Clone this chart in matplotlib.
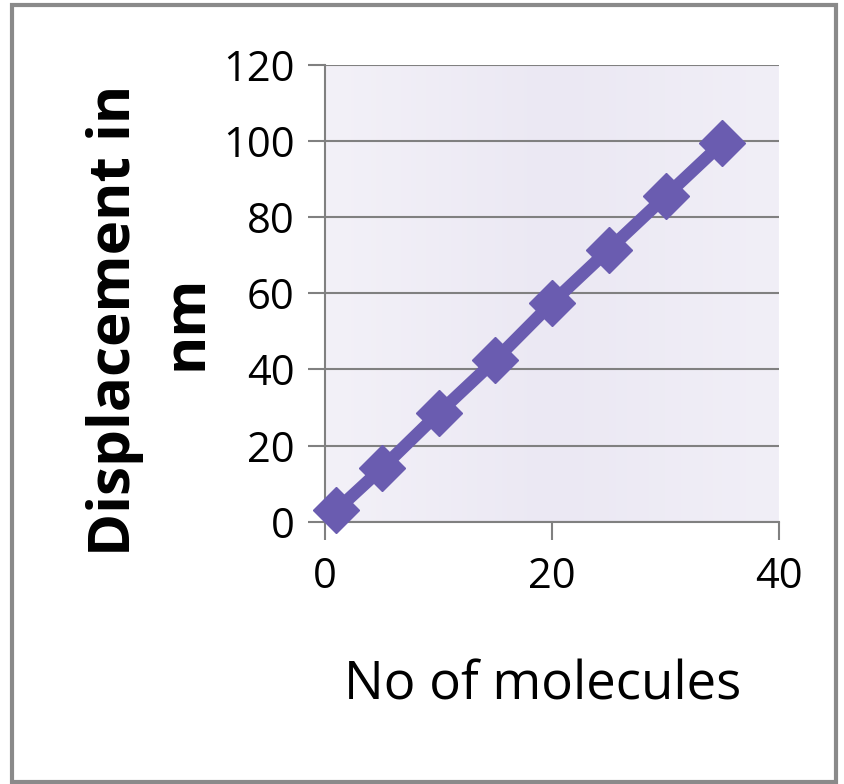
import matplotlib
matplotlib.use("Agg")
import matplotlib.pyplot as plt
import numpy as np
from matplotlib.patches import Rectangle
from matplotlib.colors import LinearSegmentedColormap

x_vals = [1, 5, 10, 15, 20, 25, 30, 35]
y_vals = [3, 14, 28.5, 42.5, 57.5, 71.5, 85.5, 99.5]
x_ticks = [0, 20, 40]
y_ticks = [0, 20, 40, 60, 80, 100, 120]

plt.rcParams['font.family'] = ['Open Sans', 'DejaVu Sans']

fig = plt.figure(figsize=(8.45, 7.84), dpi=100)
fig.patch.set_facecolor('white')
# outer frame
fig.patches.append(Rectangle((12/845, 2/784), (836-12)/845, (779-2)/784,
                             transform=fig.transFigure, fill=False,
                             edgecolor='#8a8a8a', linewidth=3))

ax = fig.add_axes([325/845, 1-521.7/784, (779-325)/845, (521.7-65)/784])
ax.set_xlim(0, 40)
ax.set_ylim(0, 120)

# gradient background
grad = np.linspace(0, 1, 256).reshape(1, -1)
cmap = LinearSegmentedColormap.from_list('bg', ['#f3f1f8', '#ebe8f3', '#f1eff7'])
ax.imshow(grad, extent=[0, 1, 0, 1], transform=ax.transAxes, aspect='auto',
          cmap=cmap, zorder=0)

ax.set_yticks(y_ticks)
ax.set_xticks(x_ticks)
ax.grid(axis='y', color='#808080', linewidth=1.5, zorder=1)
ax.set_axisbelow(True)

for s in ['top', 'right']:
    ax.spines[s].set_visible(False)
for s in ['left', 'bottom']:
    ax.spines[s].set_color('#808080')
    ax.spines[s].set_linewidth(1.5)

ax.tick_params(axis='y', length=12, width=1.5, color='#808080', labelsize=30, pad=10)
ax.tick_params(axis='x', length=13, width=1.5, color='#808080', labelsize=30, pad=12)

ax.plot(x_vals, y_vals, color='#6a5cb0', linewidth=9, marker='D', markersize=23,
        markerfacecolor='#6a5cb0', markeredgecolor='#6a5cb0', zorder=3, clip_on=False)

fig.text(115/845, 1-320/784, 'Displacement in', rotation=90, ha='center', va='center',
         fontsize=42, fontweight='bold')
fig.text(187/845, 1-322/784, 'nm', rotation=90, ha='center', va='center',
         fontsize=42, fontweight='bold')
fig.text(543/845, 1-686/784, 'No of molecules', ha='center', va='center', fontsize=38)

fig.savefig('out.png', dpi=100)
